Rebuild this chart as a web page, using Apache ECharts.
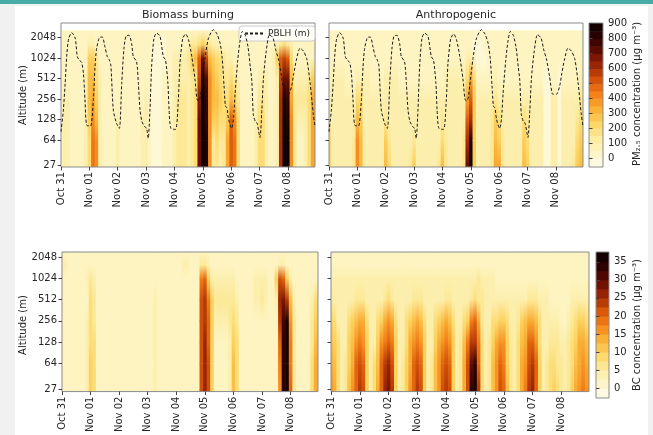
<!DOCTYPE html>
<html>
<head>
<meta charset="utf-8">
<script src="https://cdn.jsdelivr.net/npm/echarts@6/dist/echarts.min.js"></script>
<style>
  html, body { margin: 0; padding: 0; background: #f1f1f1; }
  #bar { position: absolute; left: 0; top: 0; width: 653px; height: 4px; background: #45ada5; }
  #sheet { position: absolute; left: 15px; top: 6px; width: 633px; height: 429px; background: #fff; }
  #chart { position: absolute; left: 0; top: 0; width: 653px; height: 435px; }
</style>
</head>
<body>
<div id="bar"></div>
<div id="sheet"></div>
<div id="chart"></div>
<script>
// time axis: hours since Oct 31 00:00, one column every 3 h
const dayLabels = ['Oct 31', 'Nov 01', 'Nov 02', 'Nov 03', 'Nov 04', 'Nov 05', 'Nov 06', 'Nov 07', 'Nov 08']
const dayTicks = [0, 24, 48, 72, 96, 120, 144, 168, 192]
const altTicks = [27, 64, 128, 256, 512, 1024, 2048]
const levels = [27, 64, 128, 256, 512, 1024, 1600, 2600]

const pmTicks = [0, 100, 200, 300, 400, 500, 600, 700, 800, 900]
const bcTicks = [0, 5, 10, 15, 20, 25, 30, 35]
const pmBands = [-60, -50, 0, 50, 100, 150, 200, 250, 300, 350, 400, 450, 500, 550, 600, 650, 700, 750, 800, 850, 900, 905]
const bcBands = [-2.7, -2.5, 0, 2.5, 5, 7.5, 10, 12.5, 15, 17.5, 20, 22.5, 25, 27.5, 30, 32.5, 35, 37.5, 37.7]

// one string per altitude level (bottom -> top), one char per 3 h column, grouped by day
// PM2.5: char (base 36) x 50 ug/m3
const pmBiomass = [
  '12211112 49821111 21111112 21000111 2333234e ih833237 a9411112 442112ci i8311247',
  '12211112 49821111 21111112 21000111 2333234e ih834337 a9411112 442112ci i8311247',
  '12211112 58621111 21111112 21000111 2333234e ig855445 a8411112 442112ci h8322247',
  '12211112 67521111 11111111 21000111 2333234d ig866544 65311111 332112ch g7333347',
  '11111112 66421111 11111111 11000111 2222233b hf865433 43211111 222112be e6222235',
  '11111111 55311111 11111111 11000011 2222356a eb654432 21111111 111125ab a4111111',
  '11111111 22111111 11111111 11000011 11112334 54322111 11111111 11111234 32111111',
  '11111111 11111111 11111111 11111111 11111111 11111111 11111111 11111111 11111111'
]
const pmAnthro = [
  '52222223 86222222 64222223 52222223 6322223e i5222237 73222226 52222002 20222356',
  '52222223 86222222 53222222 32222222 4322223c h5222236 53222225 42222002 20222245',
  '32222222 65222222 32222222 22222222 3222222a c5222235 42222224 32222002 20222234',
  '22222222 44222222 22222222 22222222 22222227 a5222223 22222222 22222002 20222223',
  '12222111 22221111 22221111 11111111 12222224 74111112 11111111 11111001 10111112',
  '11111111 11111111 11111111 11111111 11111112 21000111 11111111 11111111 11111111',
  '11111111 11111111 11111111 11111111 11111111 10001111 11111111 11111111 11111111',
  '11111111 11111111 11111111 11111111 11111111 11111111 11111111 11111111 11111111'
]
// BC: char (base 36) x 2 ug/m3
const bcBiomass = [
  '11111112 54111111 11111111 11211111 1111111b db511112 64111111 111118hi a3111147',
  '11111112 54111111 11111111 11211111 1111111b db511112 64111111 111119hi 93111147',
  '11111112 44111111 11111111 11211111 1111111b da511112 54111111 11111ahi 93111136',
  '11111112 43111111 11111111 11211111 1111111b ca522223 43111111 11111cgi 83111135',
  '11111111 43111111 11111111 11211111 1111111b c9533333 32111122 32112dec 62111124',
  '11111112 32111111 11111111 11111111 11111119 a5222222 21111122 22115ba5 21111111',
  '22111111 11111111 11111111 11111111 11221113 32111111 11111111 11111221 11111111',
  '11111111 11111111 11111111 11111111 11111111 11111111 11111111 11111111 11111111'
]
const bcAnthro = [
  '8742368a cb5247ad ec52358a cb52368b cb5237bh ic42368b a632479c da523454 32357898',
  '7642357a ba5246ac db52357a ba52368a ba5237bf ha42368a 9532478b ca523443 32346787',
  '65422568 98522589 a9522478 98522578 9852369c c9423578 8532467a a8422333 22345776',
  '54222456 77422457 87422456 76422456 76422459 a7322445 54223567 76422222 11234554',
  '32222223 33222223 43222223 33222222 33222223 43322222 22222223 33222111 11122222',
  '22222222 22222222 22222222 22222222 22222222 23222211 11111111 11111111 11111111',
  '11111111 11111111 11111111 11111111 11111111 11111111 11111111 11111111 11111111',
  '11111111 11111111 11111111 11111111 11111111 11111111 11111111 11111111 11111111'
]

// boundary layer height (m)
const pblhHours = [0, 2, 3.5, 5, 6.5, 9, 12, 13.8, 15.5, 17.5, 19, 20.3, 21.7, 25,
  27.4, 28.8, 30.2, 33, 35, 37.2, 39.2, 41, 42.2, 44.3, 47, 49.4,
  51.4, 53.3, 55, 57.5, 59.8, 61.2, 64, 65.5, 66.9, 68.5, 71, 72.5, 73.8,
  75.3, 76.7, 78.7, 81, 83.8, 86.6, 88.5, 90.5, 91.5, 93, 97,
  99.3, 100.7, 103, 105.5, 108, 110.6, 113.4, 115, 116.2, 117.5,
  119.1, 121.9, 124.7, 129, 132, 134.6, 136.5, 138, 139.2, 140.5, 141.8, 144.4, 146, 147.3,
  149.5, 151.5, 153.5, 156, 158.3, 160.2, 161.5, 162.8, 164.5, 166, 168.4,
  170, 171.3, 173.5, 176.5, 179.5, 182, 184, 186.7, 189.5, 192.5, 195.3,
  197, 199.5, 202.3, 205.1, 208, 210.8, 213.6, 215]
const pblhAlt = [85, 176, 430, 1200, 1950, 2400, 2000, 1070, 950, 880, 600, 250, 106, 103,
  250, 760, 1420, 2070, 2070, 1490, 1070, 950, 800, 176, 113, 95,
  433, 1420, 2130, 2200, 1660, 1070, 900, 433, 176, 120, 100, 95, 68,
  176, 760, 2000, 2360, 2130, 1070, 950, 433, 176, 95, 92,
  250, 850, 1950, 2300, 1870, 1100, 500, 260, 240, 250,
  400, 1000, 1950, 2650, 2300, 1700, 1000, 400, 200, 190, 130, 95, 130, 300,
  900, 1800, 2500, 2200, 1480, 760, 480, 150, 120, 113, 70,
  176, 500, 1200, 2250, 2000, 1300, 1000, 550, 300, 300, 400,
  600, 1000, 1420, 1300, 1000, 450, 150, 100]

const FONT = 'DejaVu Sans'
const INK = '#262626'
const TOP_Y = [4.69, 11.70]
const BOT_Y = [4.66, 11.25]

// warm afmhot_r-like colour ramp (low -> high)
const rampPos = [0, 0.1, 0.2, 0.3, 0.4, 0.5, 0.6, 0.7, 0.8, 0.9, 1]
const rampRgb = [
  [255, 253, 240], [253, 245, 200], [252, 236, 160], [252, 214, 100], [250, 178, 55],
  [245, 130, 25], [215, 85, 8], [160, 40, 4], [100, 12, 2], [45, 3, 1], [10, 0, 0]
]

function ramp(v, lo, hi) {
  const n = Math.min(1, Math.max(0, (v - lo) / (hi - lo)))
  let k = 0
  while (k < rampPos.length - 2 && n > rampPos[k + 1]) k++
  const f = (n - rampPos[k]) / (rampPos[k + 1] - rampPos[k])
  const a = rampRgb[k], b = rampRgb[k + 1]
  const c = i => Math.round(a[i] + (b[i] - a[i]) * f)
  return 'rgb(' + c(0) + ',' + c(1) + ',' + c(2) + ')'
}

function heatSeries(idx, rows, step, lo, hi, yMin) {
  const grid = rows.map(r => r.replace(/ /g, '').split('').map(ch => parseInt(ch, 36) * step))
  const data = []
  for (let j = 0; j < grid[0].length; j++) {
    const t0 = Math.max(0, 3 * j - 1.5)
    const t1 = Math.min(215, 3 * j + 1.5)
    data.push([t0, t1, yMin, Math.log2(levels[0]), grid[0][j], grid[0][j]])
    for (let i = 0; i < levels.length - 1; i++) {
      data.push([t0, t1, Math.log2(levels[i]), Math.log2(levels[i + 1]), grid[i][j], grid[i + 1][j]])
    }
  }
  return {
    type: 'custom', xAxisIndex: idx, yAxisIndex: idx, data: data, clip: true, z: -1, silent: true,
    renderItem(params, api) {
      const p0 = api.coord([api.value(0), api.value(2)])
      const p1 = api.coord([api.value(1), api.value(3)])
      return {
        type: 'rect',
        shape: { x: p0[0], y: p1[1], width: p1[0] - p0[0] + 0.6, height: p0[1] - p1[1] + 0.6 },
        style: {
          fill: new echarts.graphic.LinearGradient(0, 1, 0, 0, [
            { offset: 0, color: ramp(api.value(4), lo, hi) },
            { offset: 1, color: ramp(api.value(5), lo, hi) }
          ])
        }
      }
    }
  }
}

function barSeries(idx, bands, lo, hi) {
  const data = bands.slice(0, -1).map((b, i) => [b, bands[i + 1]])
  return {
    type: 'custom', xAxisIndex: idx, yAxisIndex: idx, data: data, z: -1, silent: true,
    renderItem(params, api) {
      const a = api.coord([0, api.value(0)])
      const b = api.coord([1, api.value(1)])
      return {
        type: 'rect',
        shape: { x: a[0], y: b[1], width: b[0] - a[0], height: a[1] - b[1] + 0.5 },
        style: { fill: ramp((api.value(0) + api.value(1)) / 2, lo, hi) }
      }
    }
  }
}

function pblhSeries(idx) {
  return {
    type: 'line', name: 'PBLH (m)', xAxisIndex: idx, yAxisIndex: idx,
    data: pblhHours.map((t, i) => [t, Math.log2(pblhAlt[i])]),
    symbol: 'none', smooth: 0.25, z: 5,
    itemStyle: { color: '#1a1a1a' },
    lineStyle: { color: '#1a1a1a', width: 1, type: [3, 2] }
  }
}

function panelX(idx) {
  return {
    type: 'value', gridIndex: idx, min: 0, max: 215,
    axisLine: { show: false }, splitLine: { show: false },
    axisTick: { customValues: dayTicks, length: 3.5, lineStyle: { color: '#444' } },
    axisLabel: {
      customValues: dayTicks, formatter: v => dayLabels[Math.round(v / 24)],
      rotate: 90, fontSize: 10, color: INK, margin: 5
    }
  }
}

function panelY(idx, range, showLabels) {
  const vals = altTicks.map(a => Math.log2(a))
  return {
    type: 'value', gridIndex: idx, min: range[0], max: range[1],
    axisLine: { show: false }, splitLine: { show: false },
    axisTick: { show: true, customValues: vals, length: 3.5, lineStyle: { color: '#444' } },
    axisLabel: {
      show: showLabels, customValues: vals,
      formatter: v => String(Math.round(Math.pow(2, v))), fontSize: 10, color: INK, margin: 5
    }
  }
}

function barY(idx, min, max, ticks) {
  return {
    type: 'value', gridIndex: idx, position: 'right', min: min, max: max,
    axisLine: { show: false }, splitLine: { show: false },
    axisTick: { customValues: ticks, length: 3.5, lineStyle: { color: '#444' } },
    axisLabel: { customValues: ticks, fontSize: 10, color: INK, margin: 5 }
  }
}

function label(text, x, y, size, rotated) {
  return {
    type: 'text', x: x, y: y, rotation: rotated ? Math.PI / 2 : 0,
    style: { text: text, fontSize: size, fontFamily: FONT, fill: INK, align: 'center', verticalAlign: 'middle' }
  }
}

const frame = { show: true, borderColor: '#8a8a8a', borderWidth: 1, backgroundColor: 'transparent' }

const chart = echarts.init(document.getElementById('chart'))
chart.setOption({
  animation: false,
  backgroundColor: 'transparent',
  textStyle: { fontFamily: FONT },
  grid: [
    Object.assign({ left: 61, top: 23, width: 254, height: 144 }, frame),
    Object.assign({ left: 329, top: 23, width: 254, height: 144 }, frame),
    Object.assign({ left: 62, top: 252, width: 256, height: 146 }, frame),
    Object.assign({ left: 331, top: 252, width: 258, height: 146 }, frame),
    Object.assign({ left: 589, top: 23, width: 14, height: 144 }, frame),
    Object.assign({ left: 596, top: 252, width: 13, height: 146 }, frame)
  ],
  xAxis: [
    panelX(0), panelX(1), panelX(2), panelX(3),
    { type: 'value', gridIndex: 4, min: 0, max: 1, show: false },
    { type: 'value', gridIndex: 5, min: 0, max: 1, show: false }
  ],
  yAxis: [
    panelY(0, TOP_Y, true), panelY(1, TOP_Y, false),
    panelY(2, BOT_Y, true), panelY(3, BOT_Y, false),
    barY(4, -60, 905, pmTicks), barY(5, -2.7, 37.7, bcTicks)
  ],
  legend: {
    data: ['PBLH (m)'], left: 239, top: 26, padding: [3, 5], itemGap: 4,
    itemWidth: 18, itemHeight: 8, selectedMode: false,
    itemStyle: { opacity: 0 },
    backgroundColor: 'rgba(255,255,255,0.85)', borderColor: '#cccccc', borderWidth: 1, borderRadius: 3,
    textStyle: { fontSize: 9, color: INK, fontFamily: FONT }
  },
  graphic: [
    label('Biomass burning', 188, 15, 11, false),
    label('Anthropogenic', 456, 15, 11, false),
    label('Altitude (m)', 23, 95, 10, true),
    label('Altitude (m)', 23, 325, 10, true),
    label('PM\u2082.\u2085 concentration (\u03bcg m\u207b\u00b3)', 637, 94, 10, true),
    label('BC concentration (\u03bcg m\u207b\u00b3)', 637, 325, 10, true)
  ],
  series: [
    heatSeries(0, pmBiomass, 50, -60, 905, TOP_Y[0]),
    heatSeries(1, pmAnthro, 50, -60, 905, TOP_Y[0]),
    heatSeries(2, bcBiomass, 2, -2.7, 37.7, BOT_Y[0]),
    heatSeries(3, bcAnthro, 2, -2.7, 37.7, BOT_Y[0]),
    barSeries(4, pmBands, -60, 905),
    barSeries(5, bcBands, -2.7, 37.7),
    pblhSeries(0),
    pblhSeries(1)
  ]
})
</script>
</body>
</html>
